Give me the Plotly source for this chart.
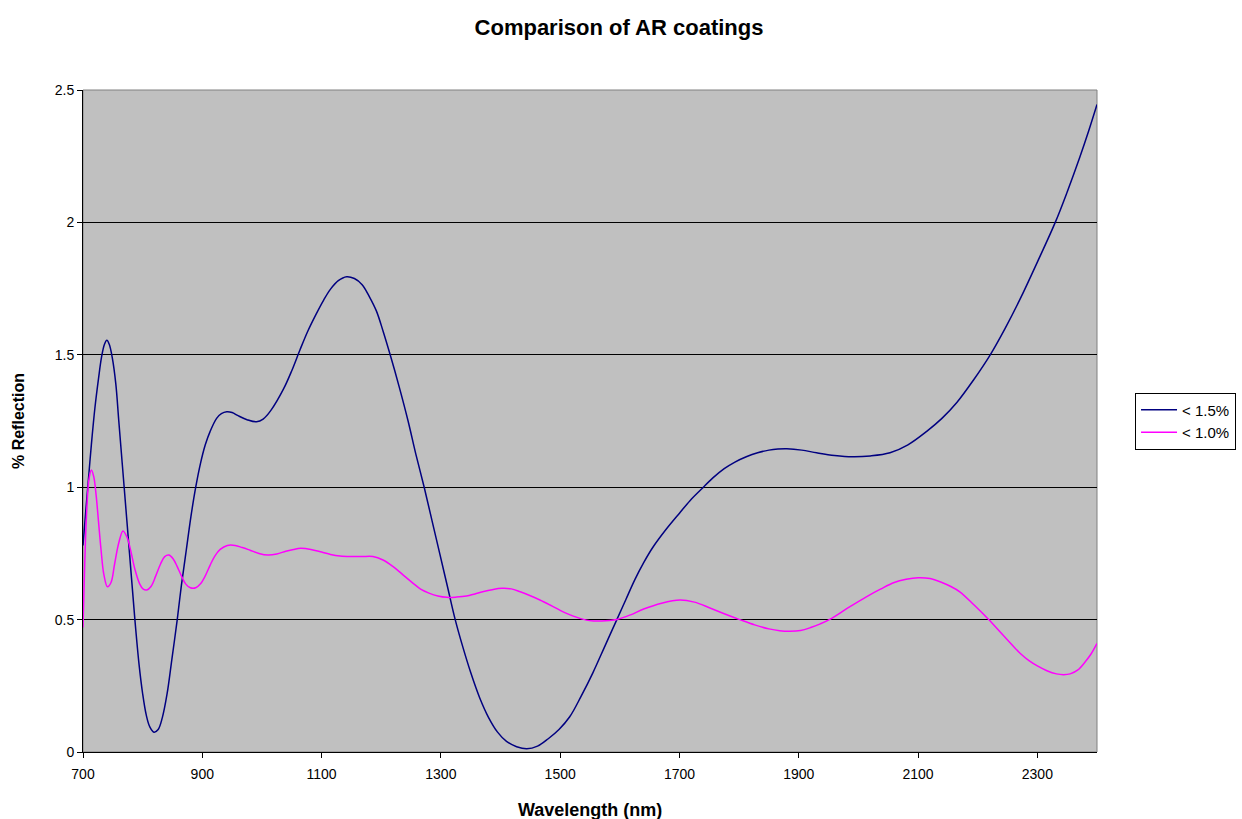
import plotly.graph_objects as go

# Data
wl_a = [700, 705, 708, 714, 720, 726, 731, 736, 740, 744, 749, 755, 760, 769, 778,
        787, 794, 800, 806, 812, 819, 826, 833, 841, 849, 858, 865, 873, 881, 889,
        897, 905, 913, 924, 932, 941, 950, 960, 975, 991, 1002, 1015, 1036, 1050,
        1064, 1077, 1090, 1103, 1115, 1128, 1142, 1155, 1168, 1180, 1192, 1203,
        1215, 1230, 1245, 1258, 1272, 1285, 1298, 1311, 1324, 1337, 1350, 1365,
        1380, 1395, 1410, 1427, 1444, 1462, 1480, 1498, 1516, 1535, 1555, 1575,
        1595, 1610, 1625, 1640, 1656, 1678, 1700, 1718, 1737, 1756, 1775, 1793,
        1812, 1831, 1850, 1865, 1880, 1905, 1930, 1960, 1990, 2020, 2053, 2083,
        2114, 2140, 2165, 2193, 2221, 2246, 2271, 2300, 2330, 2350, 2371, 2386, 2400]
refl_a = [0.78, 0.92, 1.0, 1.16, 1.30, 1.41, 1.49, 1.54, 1.555, 1.54, 1.49, 1.39,
          1.25, 1.0, 0.75, 0.5, 0.33, 0.22, 0.14, 0.095, 0.075, 0.085, 0.13, 0.22,
          0.35, 0.5, 0.63, 0.76, 0.89, 1.0, 1.09, 1.16, 1.21, 1.26, 1.278, 1.285,
          1.282, 1.27, 1.255, 1.247, 1.257, 1.29, 1.37, 1.44, 1.52, 1.59, 1.65,
          1.705, 1.748, 1.78, 1.795, 1.788, 1.765, 1.72, 1.665, 1.59, 1.5, 1.38,
          1.25, 1.125, 1.0, 0.875, 0.75, 0.625, 0.5, 0.395, 0.3, 0.205, 0.13, 0.075,
          0.04, 0.02, 0.012, 0.022, 0.05, 0.085, 0.133, 0.21, 0.3, 0.4, 0.5, 0.575,
          0.65, 0.715, 0.775, 0.842, 0.902, 0.95, 0.993, 1.035, 1.07, 1.095, 1.115,
          1.13, 1.14, 1.144, 1.145, 1.14, 1.13, 1.12, 1.115, 1.118, 1.13, 1.16, 1.21,
          1.26, 1.32, 1.405, 1.50, 1.60, 1.71, 1.85, 2.0, 2.115, 2.245, 2.345, 2.445]

wl_b = [700, 703, 706, 710, 714, 718, 722, 726, 730, 735, 741, 747, 753, 760, 767,
        774, 780, 787, 795, 801, 807, 814, 822, 830, 837, 844, 851, 858, 865, 872,
        880, 889, 897, 905, 913, 921, 930, 942, 955, 967, 980, 995, 1010, 1025,
        1040, 1053, 1065, 1082, 1100, 1115, 1131, 1150, 1168, 1186, 1203, 1220,
        1236, 1253, 1266, 1280, 1295, 1310, 1326, 1343, 1357, 1370, 1386, 1402,
        1418, 1433, 1450, 1466, 1483, 1500, 1522, 1544, 1557, 1570, 1583, 1595,
        1618, 1640, 1670, 1701, 1725, 1750, 1775, 1801, 1826, 1850, 1868, 1885,
        1903, 1920, 1936, 1952, 1983, 2014, 2037, 2060, 2080, 2100, 2120, 2140,
        2155, 2170, 2194, 2218, 2245, 2271, 2286, 2300, 2316, 2332, 2344, 2355,
        2368, 2380, 2390, 2400]
refl_b = [0.47, 0.72, 0.90, 1.03, 1.065, 1.04, 0.97, 0.87, 0.77, 0.67, 0.624, 0.64,
          0.71, 0.79, 0.835, 0.81, 0.76, 0.69, 0.635, 0.615, 0.612, 0.625, 0.665,
          0.71, 0.738, 0.744, 0.73, 0.70, 0.665, 0.635, 0.62, 0.62, 0.635, 0.665,
          0.705, 0.74, 0.765, 0.78, 0.78, 0.772, 0.762, 0.75, 0.744, 0.748, 0.758,
          0.765, 0.769, 0.765, 0.755, 0.746, 0.74, 0.738, 0.738, 0.738, 0.725, 0.70,
          0.67, 0.638, 0.615, 0.60, 0.589, 0.584, 0.585, 0.589, 0.597, 0.605, 0.613,
          0.618, 0.616, 0.605, 0.59, 0.574, 0.555, 0.535, 0.513, 0.498, 0.495,
          0.495, 0.497, 0.50, 0.518, 0.54, 0.562, 0.574, 0.566, 0.545, 0.522, 0.50,
          0.48, 0.465, 0.458, 0.456, 0.459, 0.47, 0.484, 0.501, 0.545, 0.587, 0.615,
          0.64, 0.652, 0.658, 0.655, 0.64, 0.625, 0.605, 0.555, 0.501, 0.435, 0.373,
          0.345, 0.325, 0.307, 0.295, 0.292, 0.295, 0.31, 0.34, 0.37, 0.41]

names = ["< 1.5%", "< 1.0%"]
colors = ["#000080", "#FF00FF"]
x_ticks = list(range(700, 2400, 200))
y_ticks = [0, 0.5, 1, 1.5, 2, 2.5]
y_labels = ["0", "0.5", "1", "1.5", "2", "2.5"]

font = "Liberation Sans, Arial, sans-serif"

fig = go.Figure()
for wl, r, n, c in [(wl_a, refl_a, names[0], colors[0]), (wl_b, refl_b, names[1], colors[1])]:
    fig.add_trace(go.Scatter(x=wl, y=r, name=n, mode="lines",
                             line=dict(color=c, width=1.5, shape="spline", smoothing=1.0)))

fig.update_layout(
    width=1242, height=819,
    margin=dict(l=83, r=145, t=90, b=67, autoexpand=False),
    paper_bgcolor="white", plot_bgcolor="#C0C0C0",
    font=dict(family=font, size=14, color="black"),
    title=dict(text="<b>Comparison of AR coatings</b>", x=619 / 1242, xref="container",
               xanchor="center", y=1 - 27 / 819, yref="container", yanchor="middle",
               font=dict(size=22, family=font, color="black")),
    showlegend=True,
    legend=dict(x=1.0375, y=0.5, xanchor="left", yanchor="middle",
                bgcolor="white", bordercolor="black", borderwidth=1,
                font=dict(size=15, family=font), tracegroupgap=0, itemwidth=36),
    annotations=[
        dict(text="<b>Wavelength (nm)</b>", xref="paper", yref="paper", x=0.5, y=0,
             xanchor="center", yanchor="middle", yshift=-58, showarrow=False,
             font=dict(size=18)),
        dict(text="<b>% Reflection</b>", xref="paper", yref="paper", x=0, y=0.5,
             xanchor="center", yanchor="middle", xshift=-65, showarrow=False,
             textangle=-90, font=dict(size=16)),
    ],
)
fig.update_xaxes(range=[700, 2400], tickvals=x_ticks, ticks="outside", ticklen=5,
                 tickcolor="black", showline=True, linecolor="black", linewidth=1,
                 showgrid=False, zeroline=False, automargin=False, ticklabelstandoff=4)
fig.update_yaxes(range=[0, 2.5], tickvals=y_ticks, ticktext=y_labels, ticks="outside",
                 ticklen=5, tickcolor="black", showline=True, linecolor="black",
                 linewidth=1, showgrid=True, gridcolor="black", gridwidth=1,
                 zeroline=False, automargin=False)
fig.add_shape(type="rect", xref="x domain", yref="y domain", x0=0, x1=1, y0=0, y1=1,
              line=dict(color="#808080", width=1), fillcolor="rgba(0,0,0,0)", layer="below")

fig.write_html("out.html")
